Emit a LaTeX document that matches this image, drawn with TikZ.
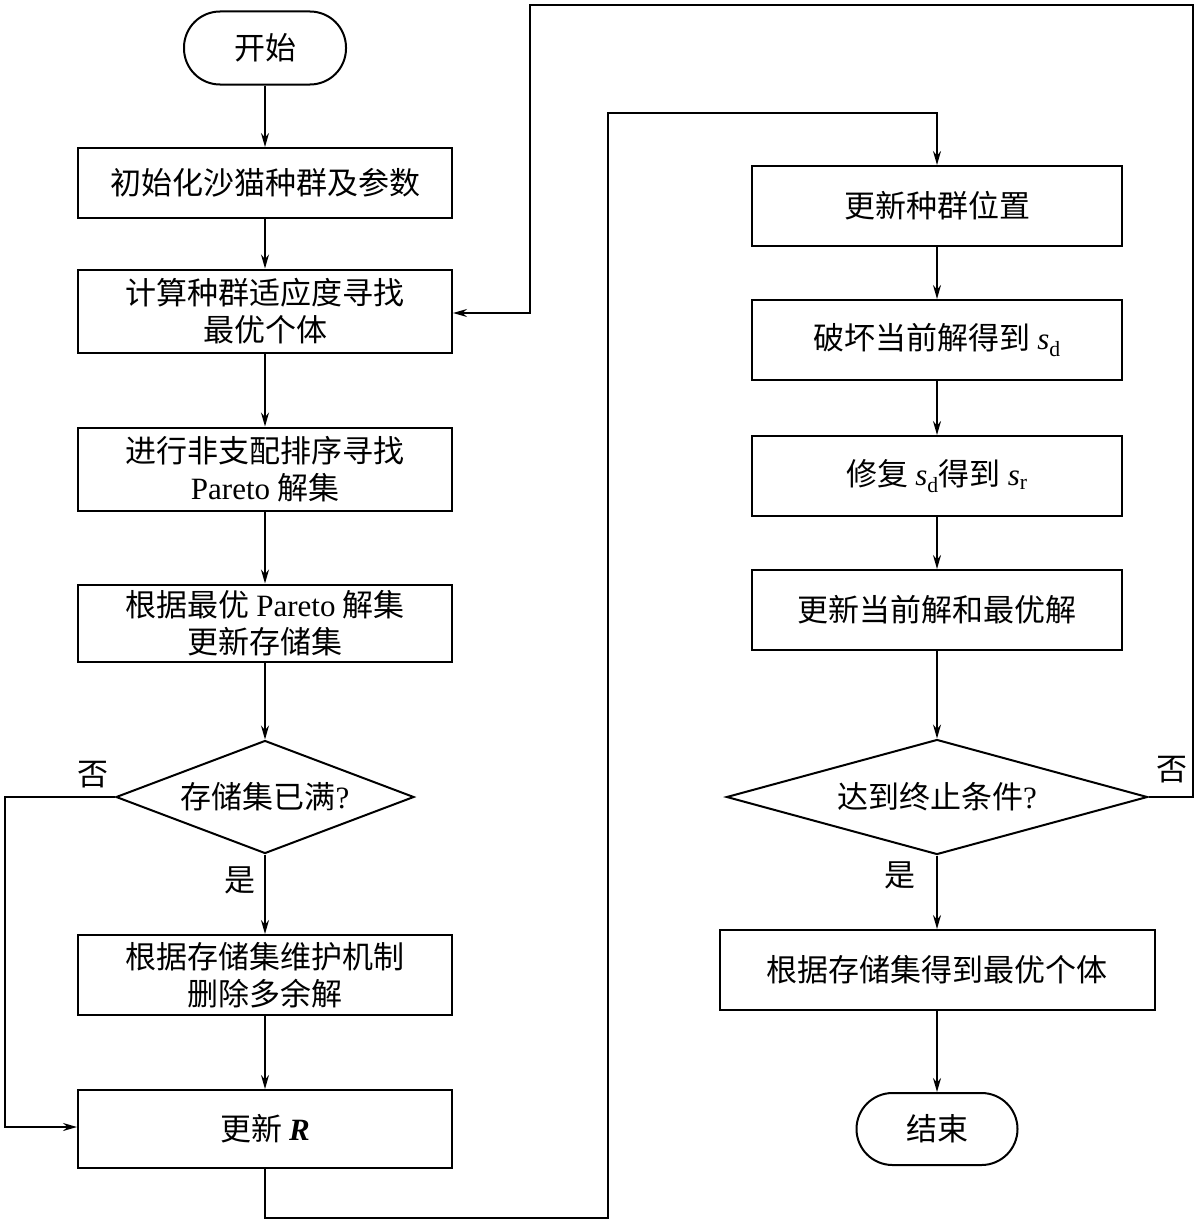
\documentclass[tikz,border=0pt]{standalone}
\usepackage{fontspec}
\setmainfont{Liberation Serif}
\newfontfamily\cjk{Noto Sans CJK SC}
\usetikzlibrary{shapes.geometric,arrows.meta}
\begin{document}
\begin{tikzpicture}[x=1pt,y=-1pt,
 every node/.style={font=\fontsize{31}{37}\selectfont\cjk, align=center},
 box/.style={draw, line width=2pt, inner sep=0pt},
 ln/.style={line width=1.6pt},
 ar/.style={ln,-{Stealth[length=14pt,width=8pt]}}]
\useasboundingbox (0,0) rectangle (1200,1223);
\node[box, rounded corners=36pt, minimum width=162pt, minimum height=73pt] (s) at (265,48) {开始};
\node[box, minimum width=374pt, minimum height=70pt] (b1) at (265,183) {初始化沙猫种群及参数};
\node[box, minimum width=374pt, minimum height=83pt] (b2) at (265,311) {计算种群适应度寻找\\最优个体};
\node[box, minimum width=374pt, minimum height=83pt] (b3) at (265,469) {进行非支配排序寻找\\{\rmfamily Pareto} 解集};
\node[box, minimum width=374pt, minimum height=77pt] (b4) at (265,623) {根据最优 {\rmfamily Pareto} 解集\\更新存储集};
\node[box, diamond, aspect=2.64, minimum width=298pt, minimum height=113pt, inner sep=0pt] (d1) at (265,797) {};
\node at (265,797) {存储集已满{\rmfamily ?}};
\node[box, minimum width=374pt, minimum height=80pt] (b5) at (265,975) {根据存储集维护机制\\删除多余解};
\node[box, minimum width=374pt, minimum height=78pt] (b6) at (265,1129) {更新 {\rmfamily\bfseries\itshape R}};
\node at (93,775) {否};
\node at (240,880) {是};
\node[box, minimum width=370pt, minimum height=80pt] (c1) at (937,206) {更新种群位置};
\node[box, minimum width=370pt, minimum height=80pt] (c2) at (937,340) {破坏当前解得到 {\rmfamily\itshape s}{\rmfamily\textsubscript{d}}};
\node[box, minimum width=370pt, minimum height=80pt] (c3) at (937,476) {修复 {\rmfamily\itshape s}{\rmfamily\textsubscript{d}}得到 {\rmfamily\itshape s}{\rmfamily\textsubscript{r}}};
\node[box, minimum width=370pt, minimum height=80pt] (c4) at (937,610) {更新当前解和最优解};
\node[box, diamond, aspect=3.66, minimum width=421pt, minimum height=115pt, inner sep=0pt] (d2) at (937,797) {};
\node at (937,797) {达到终止条件{\rmfamily ?}};
\node[box, minimum width=435pt, minimum height=80pt] (c5) at (937,970) {根据存储集得到最优个体};
\node[box, rounded corners=36pt, minimum width=161pt, minimum height=72pt] (e) at (937,1129) {结束};
\node at (1172,770) {否};
\node at (900,875) {是};
\draw[ar] (s) -- (b1);
\draw[ar] (b1) -- (b2);
\draw[ar] (b2) -- (b3);
\draw[ar] (b3) -- (b4);
\draw[ar] (b4.south) -- (d1.north);
\draw[ar] (d1.south) -- (b5);
\draw[ar] (b5) -- (b6);
\draw[ar] (d1.west) -- (5,797) -- (5,1127) -- (b6.west |- 0,1127);
\coordinate (t1) at (265,1218);
\coordinate (t2) at (608,1218);
\coordinate (t3) at (608,113);
\coordinate (t4) at (937,113);
\draw[ar] (b6.south) -- (t1) -- (t2) -- (t3) -- (t4) -- (c1.north);
\draw[ar] (c1) -- (c2);
\draw[ar] (c2) -- (c3);
\draw[ar] (c3) -- (c4);
\draw[ar] (c4.south) -- (d2.north);
\draw[ar] (d2.south) -- (c5);
\draw[ar] (c5) -- (e);
\coordinate (u1) at (1193,797);
\coordinate (u2) at (1193,5);
\coordinate (u3) at (530,5);
\coordinate (u4) at (530,313);
\draw[ar] (d2.east) -- (u1) -- (u2) -- (u3) -- (u4) -- (b2.east |- u4);
\end{tikzpicture}
\end{document}
